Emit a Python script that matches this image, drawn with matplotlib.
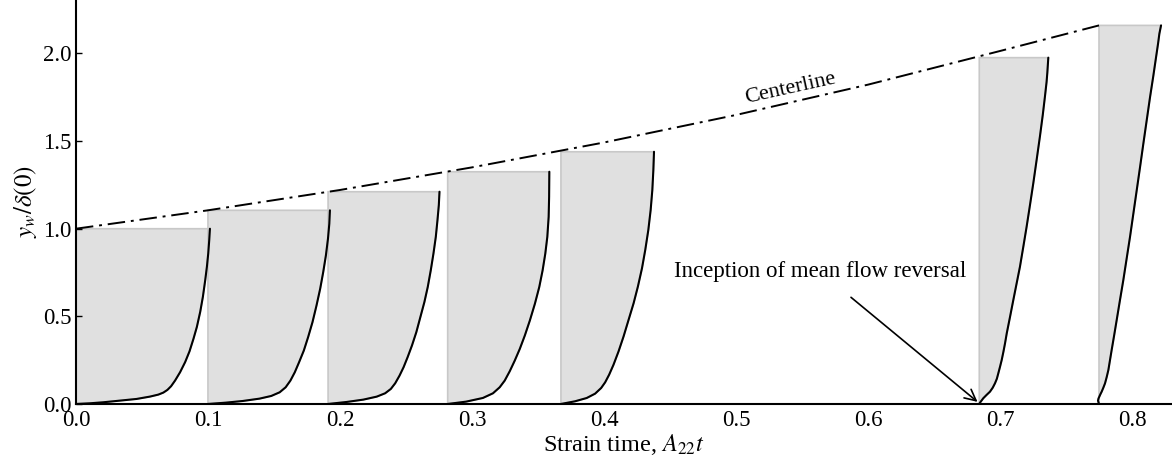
"""Wall-normal velocity profiles under strain, stacked along strain time."""
import matplotlib
matplotlib.use("Agg")
import matplotlib.pyplot as plt

plt.rcParams.update({
    "font.family": ["Liberation Serif", "DejaVu Serif"],
    "mathtext.fontset": "stix",
    "font.size": 16.5,
})

# ---- data --------------------------------------------------------------
# strain time at which each profile is drawn (its wall position on x)
t_prof = [0.0, 0.1, 0.191, 0.2816, 0.3674, 0.6843, 0.775]
# horizontal extent of each profile (max velocity, in x units)
w_prof = [0.1015, 0.0924, 0.0844, 0.077, 0.0705, 0.0523, 0.047]
# profile height  y_w / delta(0)
h_prof = [1.0, 1.105, 1.211, 1.325, 1.439, 1.976, 2.160]

# normalised shapes: u/U_max and y/h for each profile
u1 = [0, 0.1025, 0.2025, 0.3275, 0.4525, 0.5525, 0.615, 0.6525, 0.6825, 0.71,
      0.74, 0.7775, 0.815, 0.8475, 0.8775, 0.9025, 0.9275, 0.9475, 0.965,
      0.9775, 0.9875, 0.995, 1.0]
e1 = [0, 0.0038, 0.0096, 0.0191, 0.0287, 0.0421, 0.0535, 0.065, 0.0803, 0.1013,
      0.1338, 0.1816, 0.239, 0.3002, 0.3728, 0.4398, 0.5258, 0.6119, 0.7075,
      0.7839, 0.86, 0.9369, 1.0]
u2 = [0, 0.148, 0.286, 0.423, 0.519, 0.588, 0.637, 0.676, 0.712, 0.747, 0.786,
      0.821, 0.857, 0.89, 0.92, 0.945, 0.967, 0.984, 0.995, 1.0]
e2 = [0, 0.0069, 0.0155, 0.0276, 0.0414, 0.0603, 0.0862, 0.1207, 0.1638,
      0.2155, 0.2759, 0.3448, 0.4224, 0.5086, 0.5948, 0.681, 0.7672, 0.8534,
      0.931, 1.0]
u3 = [0, 0.1657, 0.3163, 0.4367, 0.512, 0.5633, 0.6024, 0.6416, 0.6777, 0.7139,
      0.753, 0.7922, 0.8283, 0.8645, 0.8946, 0.9217, 0.9458, 0.9669, 0.9819,
      0.994, 1.0]
e3 = [0, 0.0094, 0.0205, 0.0346, 0.0504, 0.0709, 0.0976, 0.1339, 0.1732,
      0.2205, 0.2756, 0.3386, 0.4094, 0.4803, 0.5512, 0.6299, 0.7087, 0.7874,
      0.8661, 0.937, 1.0]
u4 = [0, 0.1815, 0.3465, 0.4455, 0.5116, 0.5611, 0.6106, 0.6601, 0.7096,
      0.7591, 0.8086, 0.8581, 0.901, 0.934, 0.9604, 0.9802, 0.9934, 0.998, 1.0]
e4 = [0, 0.0101, 0.0259, 0.046, 0.0719, 0.1007, 0.141, 0.187, 0.2374, 0.295,
      0.3597, 0.4317, 0.5036, 0.5755, 0.6475, 0.7194, 0.8058, 0.8921, 1.0]
u5 = [0, 0.151, 0.277, 0.367, 0.432, 0.475, 0.518, 0.565, 0.619, 0.673, 0.727,
      0.781, 0.827, 0.871, 0.906, 0.939, 0.964, 0.982, 0.993, 1.0]
e5 = [0, 0.0106, 0.0237, 0.0409, 0.0633, 0.0858, 0.1161, 0.1557, 0.2084,
      0.2678, 0.3338, 0.3997, 0.4657, 0.5383, 0.6108, 0.6899, 0.7691, 0.8483,
      0.9274, 1.0]
u6 = [0, 0.01, 0.058, 0.105, 0.155, 0.195, 0.228, 0.255, 0.276, 0.3, 0.325,
      0.35, 0.373, 0.398, 0.445, 0.493, 0.541, 0.589, 0.638, 0.686, 0.735,
      0.783, 0.831, 0.879, 0.92, 0.952, 0.975, 0.986, 1.0]
e6 = [0, 0.0037, 0.0165, 0.026, 0.0355, 0.047, 0.0598, 0.073, 0.0887, 0.107,
      0.127, 0.151, 0.175, 0.204, 0.251, 0.3, 0.348, 0.396, 0.454, 0.512,
      0.575, 0.638, 0.705, 0.773, 0.835, 0.889, 0.93, 0.957, 1.0]
u7 = [0, -0.016, -0.008, 0.005, 0.022, 0.043, 0.07, 0.097, 0.124, 0.151, 0.204,
      0.245, 0.285, 0.338, 0.392, 0.446, 0.5, 0.554, 0.608, 0.662, 0.715,
      0.769, 0.823, 0.875, 0.92, 0.952, 0.973, 1.0]
e7 = [0, 0.0088, 0.0145, 0.0193, 0.0255, 0.0325, 0.043, 0.0545, 0.071, 0.0897,
      0.1425, 0.182, 0.2216, 0.2744, 0.3272, 0.3844, 0.4415, 0.503, 0.5646,
      0.6262, 0.6878, 0.7494, 0.8109, 0.866, 0.9165, 0.952, 0.978, 1.0]
shapes = [(u1, e1), (u2, e2), (u3, e3), (u4, e4), (u5, e5), (u6, e6), (u7, e7)]

# centerline delta(t)/delta(0)
t_cl = [0.0, 0.1, 0.2, 0.3, 0.4, 0.5, 0.6, 0.7, 0.775]
y_cl = [1.0, 1.105, 1.221, 1.35, 1.492, 1.649, 1.822, 2.014, 2.16]

xticks = [0.0, 0.1, 0.2, 0.3, 0.4, 0.5, 0.6, 0.7, 0.8]
yticks = [0.0, 0.5, 1.0, 1.5, 2.0]

# ---- figure -------------------------------------------------------------
fig = plt.figure(figsize=(11.72, 4.68), dpi=100)
ax = fig.add_axes([0.0648, 0.1368, 0.9352, 0.8632])

for t0, w, h, (u, e) in zip(t_prof, w_prof, h_prof, shapes):
    xs = [t0 + w * v for v in u]
    ys = [h * v for v in e]
    # grey area: wall -> profile -> top -> back down the wall
    ax.fill(xs + [t0, t0], ys + [h, 0.0], fc="#e0e0e0", ec="#c8c8c8",
            lw=1.2, zorder=1)
    ax.plot(xs, ys, color="black", lw=1.5, zorder=3,
            solid_joinstyle="round", solid_capstyle="round")

ax.plot(t_cl, y_cl, color="black", lw=1.4, dashes=(9, 3, 1.5, 3), zorder=2)
ax.text(0.541, 1.80, "Centerline", rotation=12.5, ha="center", va="center",
        fontsize=16)

ax.annotate("Inception of mean flow reversal", xy=(0.683, 0.012),
            xytext=(0.5636, 0.755), ha="center", va="center", fontsize=16.5,
            arrowprops=dict(arrowstyle="->", color="black", lw=1.2,
                            mutation_scale=20, shrinkA=14, shrinkB=0))

ax.set_xlim(0, 0.8303)
ax.set_ylim(0, 2.305)
ax.set_xticks(xticks)
ax.set_yticks(yticks)
ax.set_xticklabels([f"{v:.1f}" for v in xticks])
ax.set_yticklabels([f"{v:.1f}" for v in yticks])
ax.tick_params(axis="x", length=0, pad=4, labelsize=16.5)
ax.tick_params(axis="y", direction="in", length=4, width=1, pad=3, labelsize=16.5)
for s in ("top", "right"):
    ax.spines[s].set_visible(False)
for s in ("left", "bottom"):
    ax.spines[s].set_linewidth(1.5)

ax.set_xlabel("Strain time, $A_{22}t$", fontsize=17.5, labelpad=1)
ax.set_ylabel(r"$y_w/\delta(0)$", fontsize=18, labelpad=3)

fig.savefig("out.png", dpi=100)
